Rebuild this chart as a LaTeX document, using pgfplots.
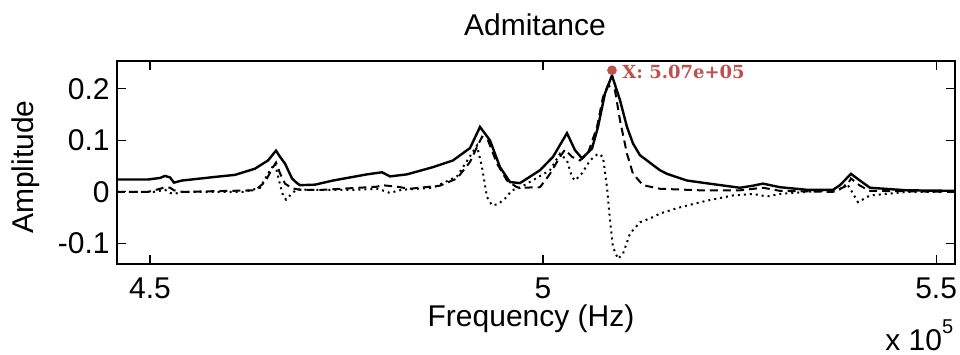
\documentclass[border=0pt]{standalone}
\usepackage{fontspec}
\setmainfont{Liberation Sans}
\newfontfamily\tipfont{DejaVu Serif}
\usepackage{pgfplots}
\pgfplotsset{compat=1.18}
\definecolor{tipred}{RGB}{192,80,77}
\begin{document}
\fontsize{15}{18}\selectfont
\begin{tikzpicture}
\path[use as bounding box] (-58.5pt,-45pt) rectangle (421.5pt,132pt);
\begin{axis}[
  at={(0pt,0pt)}, anchor=south west,
  scale only axis, width=419pt, height=101.5pt,
  xmin=445800, xmax=552400, ymin=-0.14, ymax=0.254,
  xtick={450000,500000,550000}, xticklabels={4.5,5,5.5},
  ytick={-0.1,0,0.1,0.2}, yticklabels={-0.1,0,0.1,0.2},
  scaled x ticks=false, scaled y ticks=false,
  tick align=inside, major tick length=4.5pt,
  tick style={black, line width=0.6pt},
  axis line style={black, line width=0.75pt},
  every tick label/.append style={font=\fontsize{15}{18}\selectfont},
  xticklabel style={yshift=-1.5pt},
  yticklabel style={xshift=1.5pt},
  clip=true,
]
% dotted (imaginary part)
\addplot[black, line width=1pt, dash pattern=on 1pt off 2pt] coordinates {
(445800,0.0) (450500,0.0) (451908,0.004) (452544,-0.002) (453053,-0.004) (454070,0.0)
(462000,0.0) (464000,0.008) (465264,0.042) (465900,0.055) (466409,0.022) (466918,-0.007)
(467299,-0.015) (468062,-0.003) (468698,0.005) (470000,0.004) (476000,0.004) (479000,0.006)
(480500,-0.002) (482000,0.004) (486000,0.008) (489050,0.030) (490322,0.060) (491594,0.090)
(492230,0.048) (492866,-0.010) (493502,-0.026) (494266,-0.024) (495156,-0.013) (496046,0.003)
(497064,0.008) (500880,0.042) (502152,0.074) (503042,0.061) (503678,0.029) (504060,0.022)
(504950,0.036) (505968,0.061) (506986,0.074) (507622,0.068) (508130,0.009) (508512,-0.055)
(508894,-0.107) (509530,-0.130) (510166,-0.120) (511056,-0.081) (512328,-0.059) (513982,-0.049)
(514872,-0.042) (517416,-0.030) (520850,-0.017) (524158,-0.007) (526702,-0.004) (528482,-0.009)
(530136,-0.004) (533570,0.0) (537768,0.005) (538658,0.016) (539420,-0.003) (540056,-0.020)
(541582,-0.007) (546288,0.0) (551000,0.0)
};
% dashed (real part)
\addplot[black, line width=1pt, dash pattern=on 4pt off 2.5pt] coordinates {
(445800,0.0) (449746,0.0) (451272,0.006) (451908,0.009) (452544,0.008) (453053,0.003)
(454070,0.0) (463356,0.003) (464628,0.019) (465646,0.048) (466027,0.057) (466536,0.036)
(467172,0.016) (468062,0.007) (469080,0.004) (472000,0.004) (478874,0.010) (479510,0.013)
(481418,0.010) (483000,0.006) (486888,0.012) (489050,0.026) (490704,0.058) (491594,0.087)
(492230,0.107) (492994,0.100) (494138,0.055) (495410,0.022) (496682,0.009) (497064,0.008)
(499608,0.009) (500880,0.035) (502152,0.068) (502788,0.082) (503678,0.068) (504696,0.061)
(505714,0.075) (506858,0.126) (507622,0.184) (508258,0.207) (509148,0.197) (509784,0.139)
(510674,0.074) (511438,0.035) (512710,0.013) (514872,0.006) (520000,0.003) (525048,0.003)
(527974,0.008) (530136,0.002) (536878,0.0) (538658,0.012) (539166,0.026) (540310,0.012)
(541582,0.002) (552400,0.0)
};
% solid (modulus)
\addplot[black, line width=1.2pt] coordinates {
(445800,0.024) (449746,0.024) (451272,0.027) (451908,0.031) (452544,0.028) (453053,0.018)
(454070,0.022) (458268,0.029) (460812,0.033) (463356,0.045) (465010,0.061) (466027,0.080)
(466536,0.068) (467172,0.055) (468062,0.026) (468698,0.017) (469080,0.013) (470988,0.014)
(473278,0.022) (477602,0.034) (479510,0.038) (480528,0.030) (482690,0.034) (485998,0.048)
(488542,0.061) (490704,0.085) (491976,0.126) (493248,0.100) (494520,0.048) (495792,0.019)
(497064,0.017) (499608,0.042) (501262,0.068) (503042,0.114) (504060,0.081) (504950,0.065)
(506222,0.084) (506986,0.126) (507876,0.191) (508766,0.226) (509784,0.178) (510674,0.126)
(511438,0.094) (512328,0.071) (513218,0.061) (513982,0.052) (514872,0.042) (515762,0.035)
(518306,0.022) (521614,0.015) (525048,0.008) (526702,0.012) (527974,0.016) (530136,0.009)
(533570,0.004) (536878,0.004) (537768,0.013) (539166,0.035) (540310,0.022) (541582,0.008)
(546288,0.003) (552400,0.002)
};
% data tip
\addplot[only marks, mark=*, mark size=2.2pt, color=tipred] coordinates {(508766,0.236)};
\end{axis}
\node[anchor=base] at (209pt,114pt) {Admitance};
\node[rotate=90, anchor=base] at (-41.5pt,48.5pt) {Amplitude};
\node[anchor=base] at (207pt,-31.3pt) {Frequency (Hz)};
\node[anchor=base west, inner sep=0pt] at (384pt,-43pt) {x 10\raisebox{0.55em}{\fontsize{10}{10}\selectfont 5}};
\node[anchor=west, inner sep=0pt, text=tipred, font=\tipfont\bfseries\fontsize{9}{10}\selectfont] at (252.5pt,96pt) {X: 5.07e+05};
\end{tikzpicture}
\end{document}
